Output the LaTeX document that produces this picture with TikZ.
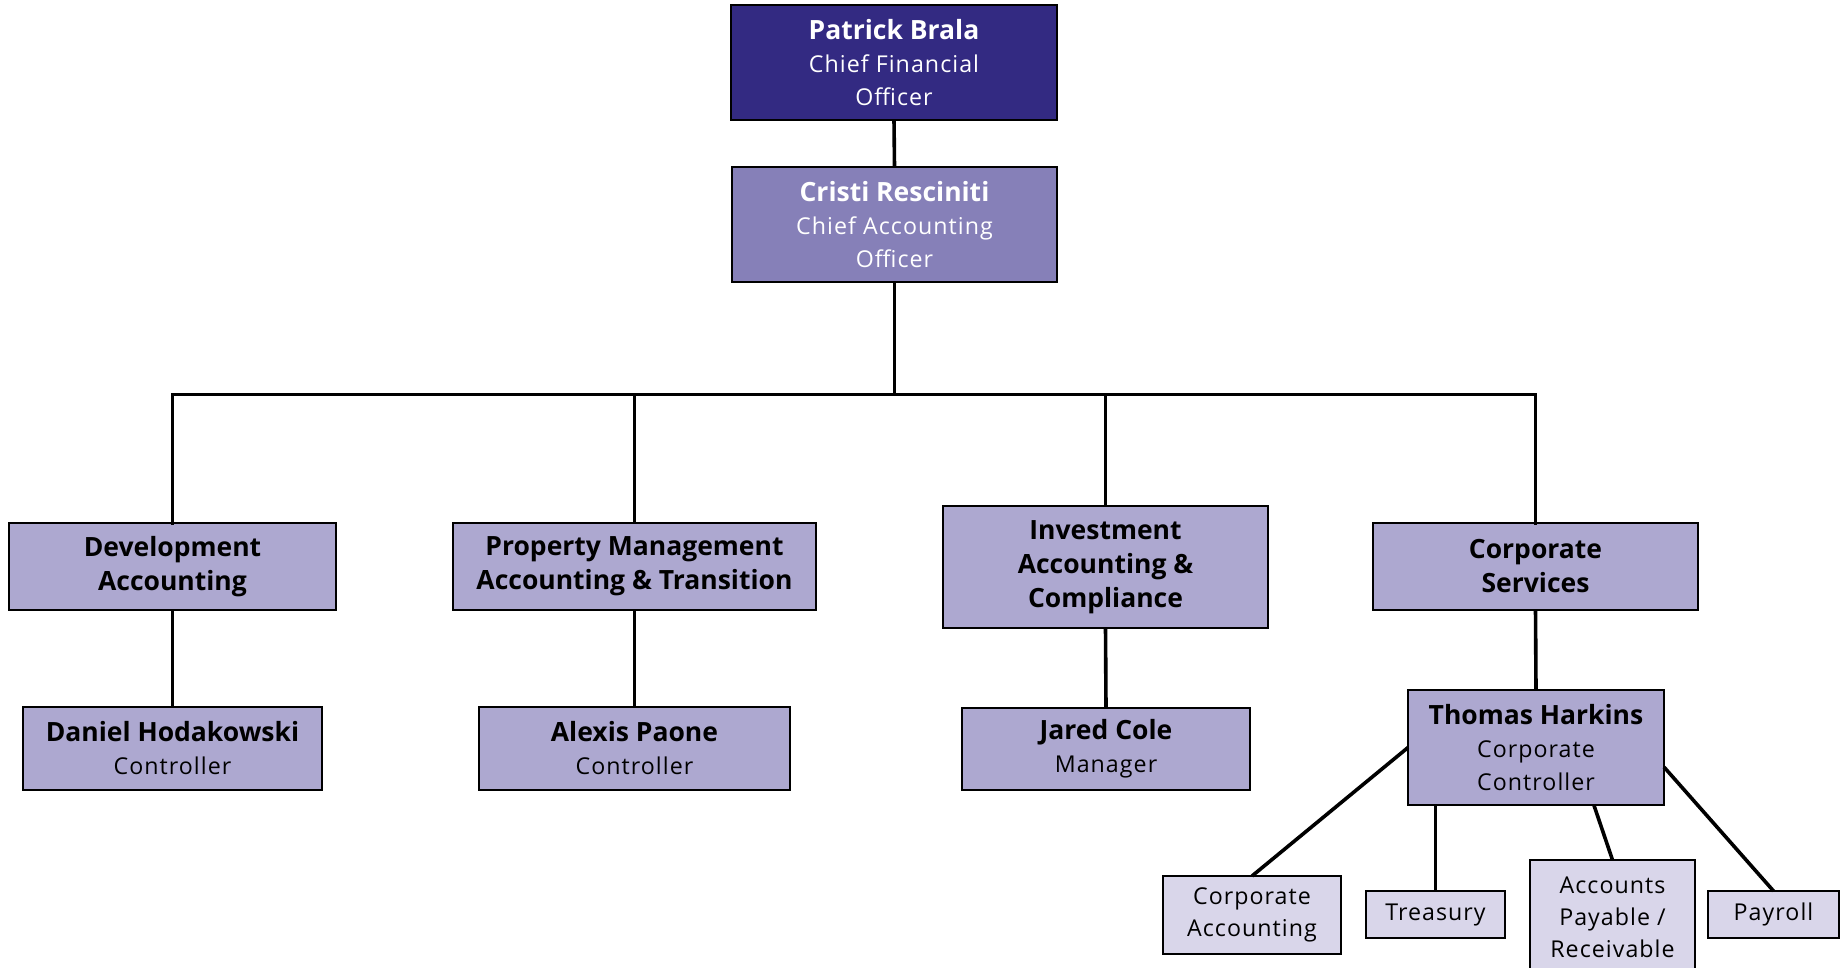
\documentclass[tikz,border=0pt]{standalone}
\usepackage{fontspec}
\setmainfont{Open Sans}[Ligatures=NoCommon]
\newfontfamily\subfam{Open Sans}[LetterSpace=4.5]
\usetikzlibrary{calc}
\definecolor{cfofill}{RGB}{51,42,130}
\definecolor{caofill}{RGB}{134,128,184}
\definecolor{midfill}{RGB}{173,168,208}
\definecolor{lowfill}{RGB}{217,214,234}
\newcommand{\nm}[1]{{\bfseries\fontsize{26.5}{33}\selectfont #1}}
\newcommand{\sub}[1]{{\subfam\fontsize{23.2}{33}\selectfont #1}}
\tikzset{
  box/.style={draw=black, line width=2.2pt, rectangle, inner sep=0pt, outer sep=0pt, align=center, font=\fontsize{23.2}{33}\selectfont},
  topbox/.style={box, fill=cfofill, text=white},
  caobox/.style={box, fill=caofill, text=white},
  midbox/.style={box, fill=midfill, text=black},
  deptbox/.style={box, fill=midfill, text=black, font=\bfseries\fontsize{26.5}{34}\selectfont},
  lowbox/.style={box, fill=lowfill, text=black, font=\subfam\fontsize{23.2}{32}\selectfont},
  conn/.style={draw=black, line width=3.6pt}
}
\begin{document}
\begin{tikzpicture}[x=1pt, y=-1pt]
\useasboundingbox (0,0) rectangle (1841,968);
\clip (0,0) rectangle (1841,968);
\fill[white] (0,0) rectangle (1841,968);

% nodes
\node[topbox, minimum width=326, minimum height=115] (cfo) at (894,62.5) {\nm{Patrick Brala}\\\sub{Chief Financial}\\\sub{Officer}};
\node[caobox, minimum width=325, minimum height=115] (cao) at (894.5,224.5) {\nm{Cristi Resciniti}\\\sub{Chief Accounting}\\\sub{Officer}};

\node[deptbox, minimum width=327, minimum height=87] (dev) at (172.5,566.5) {Development\\Accounting};
\node[deptbox, minimum width=363, minimum height=87] (pm) at (634.5,566.5) {Property Management\\Accounting \& Transition};
\node[deptbox, minimum width=325, minimum height=122] (inv) at (1105.5,567) {Investment\\Accounting \&\\Compliance};
\node[deptbox, minimum width=325, minimum height=87] (cs) at (1535.5,566.5) {Corporate\\Services};

\node[midbox, minimum width=299, minimum height=83] (dan) at (172.5,748.5) {\nm{Daniel Hodakowski}\\\sub{Controller}};
\node[midbox, minimum width=311, minimum height=83] (ale) at (634.5,748.5) {\nm{Alexis Paone}\\\sub{Controller}};
\node[midbox, minimum width=288, minimum height=82] (jar) at (1106,749) {\nm{Jared Cole}\\\sub{Manager}};
\node[midbox, minimum width=256, minimum height=115] (tho) at (1536,747.5) {\nm{Thomas Harkins}\\\sub{Corporate}\\\sub{Controller}};

\node[lowbox, minimum width=178, minimum height=78] (ca) at (1252,915) {Corporate\\Accounting};
\node[lowbox, minimum width=139, minimum height=47] (tr) at (1435.5,914.5) {Treasury};
\node[lowbox, minimum width=165, minimum height=115] (ap) at (1612.5,917.5) {Accounts\\Payable /\\Receivable};
\node[lowbox, minimum width=131, minimum height=47] (pay) at (1773.5,914.5) {Payroll};

% connectors
\coordinate (bar) at (0,394.5);
\draw[conn] (cfo.south) -- (cao.north);
\draw[conn] (cao.south) -- (cao.south |- bar);
\draw[conn, line cap=rect] (dev.north) -- (dev.north |- bar) -| (cs.north);
\draw[conn] (pm.north) -- (pm.north |- bar);
\draw[conn] (inv.north) -- (inv.north |- bar);

\draw[conn] (dev.south) -- (dan.north);
\draw[conn] (pm.south) -- (ale.north);
\draw[conn] (inv.south) -- (jar.north);
\draw[conn] (cs.south) -- (tho.north);

\coordinate (apstart) at ($(tho.south west)!0.726!(tho.south east)$);
\coordinate (paystart) at ($(tho.north east)!0.67!(tho.south east)$);
\draw[conn] (tho.west) -- (ca.north);
\draw[conn] (tr.north |- tho.south) -- (tr.north);
\draw[conn] (apstart) -- (ap.north);
\draw[conn] (paystart) -- (pay.north);
\end{tikzpicture}
\end{document}
